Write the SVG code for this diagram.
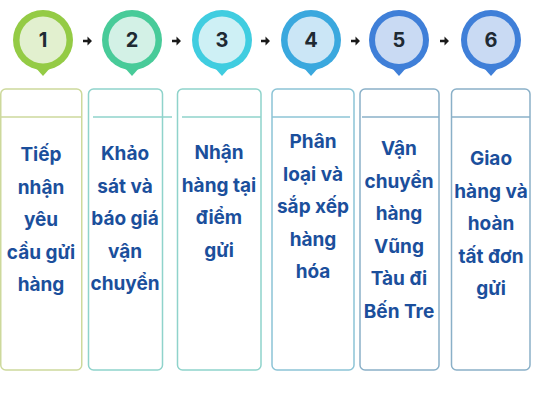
<svg xmlns="http://www.w3.org/2000/svg" width="533" height="400" viewBox="0 0 533 400">
<style>
.box{fill:#fff;stroke-width:1.5}
.sep{stroke-width:1.5}
.num{font-family:Inter,"Open Sans","Liberation Sans",sans-serif;font-weight:700;font-size:20px;fill:#1f2a33;text-anchor:middle}
.lbl{font-family:Inter,"Open Sans","Liberation Sans",sans-serif;font-weight:700;font-size:19px;fill:#1b4f9c;text-anchor:middle}
.arr{fill:#1a1a1a}
</style>
<rect width="533" height="400" fill="#fff"/>
<g id="connectors">
<path class="arr" d="M83,39.8h4.5v-3.3l4.5,4.5l-4.5,4.5v-3.3h-4.5z"/>
<path class="arr" d="M172,39.8h4.5v-3.3l4.5,4.5l-4.5,4.5v-3.3h-4.5z"/>
<path class="arr" d="M261,39.8h4.5v-3.3l4.5,4.5l-4.5,4.5v-3.3h-4.5z"/>
<path class="arr" d="M351,39.8h4.5v-3.3l4.5,4.5l-4.5,4.5v-3.3h-4.5z"/>
<path class="arr" d="M440,39.8h4.5v-3.3l4.5,4.5l-4.5,4.5v-3.3h-4.5z"/>
</g>
<g id="step1">
<path d="M35,67 L43,76 L51,67 Z" fill="#94cb45"/>
<circle cx="43" cy="40" r="30" fill="#94cb45"/>
<circle cx="43" cy="40" r="23.5" fill="#e2f0cf"/>
<text class="num" x="43" y="47">1</text>
<rect class="box" x="0.75" y="89" width="81" height="281" rx="5" stroke="#cdd99c"/>
<line class="sep" x1="1" y1="117" x2="82" y2="117" stroke="#cdd99c"/>
<text class="lbl"><tspan x="41" y="161">Tiếp</tspan><tspan x="41" y="193.5">nhận</tspan><tspan x="41" y="226">yêu</tspan><tspan x="41" y="258.5">cầu gửi</tspan><tspan x="41" y="291">hàng</tspan></text>
</g>
<g id="step2">
<path d="M124,67 L132,76 L140,67 Z" fill="#48cb99"/>
<circle cx="132" cy="40" r="30" fill="#48cb99"/>
<circle cx="132" cy="40" r="23.5" fill="#d3f1e6"/>
<text class="num" x="132" y="47">2</text>
<rect class="box" x="88.5" y="89" width="74" height="281" rx="5" stroke="#8fd3cb"/>
<line class="sep" x1="93" y1="117" x2="172" y2="117" stroke="#8fd3cb"/>
<text class="lbl"><tspan x="125" y="160">Khảo</tspan><tspan x="125" y="192.5">sát và</tspan><tspan x="125" y="225">báo giá</tspan><tspan x="125" y="257.5">vận</tspan><tspan x="125" y="290">chuyển</tspan></text>
</g>
<g id="step3">
<path d="M214,67 L222,76 L230,67 Z" fill="#40cde0"/>
<circle cx="222" cy="40" r="30" fill="#40cde0"/>
<circle cx="222" cy="40" r="23.5" fill="#cef0f5"/>
<text class="num" x="222" y="47">3</text>
<rect class="box" x="177.5" y="89" width="83.5" height="281" rx="5" stroke="#8fd3cb"/>
<line class="sep" x1="182" y1="117" x2="261" y2="117" stroke="#8fd3cb"/>
<text class="lbl"><tspan x="219" y="159">Nhận</tspan><tspan x="219" y="191.5">hàng tại</tspan><tspan x="219" y="224">điểm</tspan><tspan x="219" y="256.5">gửi</tspan></text>
</g>
<g id="step4">
<path d="M303,67 L311,76 L319,67 Z" fill="#3aa8de"/>
<circle cx="311" cy="40" r="30" fill="#3aa8de"/>
<circle cx="311" cy="40" r="23.5" fill="#cbe6f6"/>
<text class="num" x="311" y="47">4</text>
<rect class="box" x="272" y="89" width="82" height="281" rx="5" stroke="#8cc4d6"/>
<line class="sep" x1="272" y1="117" x2="350" y2="117" stroke="#8cc4d6"/>
<text class="lbl"><tspan x="313" y="148">Phân</tspan><tspan x="313" y="180.5">loại và</tspan><tspan x="313" y="213">sắp xếp</tspan><tspan x="313" y="245.5">hàng</tspan><tspan x="313" y="278">hóa</tspan></text>
</g>
<g id="step5">
<path d="M391,67 L399,76 L407,67 Z" fill="#3f7fd8"/>
<circle cx="399" cy="40" r="30" fill="#3f7fd8"/>
<circle cx="399" cy="40" r="24" fill="#c9daf3"/>
<text class="num" x="399" y="47">5</text>
<rect class="box" x="360" y="89" width="79" height="281" rx="5" stroke="#8ab0c8"/>
<line class="sep" x1="362" y1="117" x2="439" y2="117" stroke="#8ab0c8"/>
<text class="lbl"><tspan x="399" y="155">Vận</tspan><tspan x="399" y="187.5">chuyển</tspan><tspan x="399" y="220">hàng</tspan><tspan x="399" y="252.5">Vũng</tspan><tspan x="399" y="285">Tàu đi</tspan><tspan x="399" y="317.5">Bến Tre</tspan></text>
</g>
<g id="step6">
<path d="M483,67 L491,76 L499,67 Z" fill="#3f7fd8"/>
<circle cx="491" cy="40" r="30" fill="#3f7fd8"/>
<circle cx="491" cy="40" r="24" fill="#c9daf3"/>
<text class="num" x="491" y="47">6</text>
<rect class="box" x="451.5" y="89" width="78.5" height="281" rx="5" stroke="#8ab0c8"/>
<line class="sep" x1="452" y1="117" x2="530" y2="117" stroke="#8ab0c8"/>
<text class="lbl"><tspan x="491" y="165">Giao</tspan><tspan x="491" y="197.5">hàng và</tspan><tspan x="491" y="230">hoàn</tspan><tspan x="491" y="262.5">tất đơn</tspan><tspan x="491" y="295">gửi</tspan></text>
</g>
</svg>
